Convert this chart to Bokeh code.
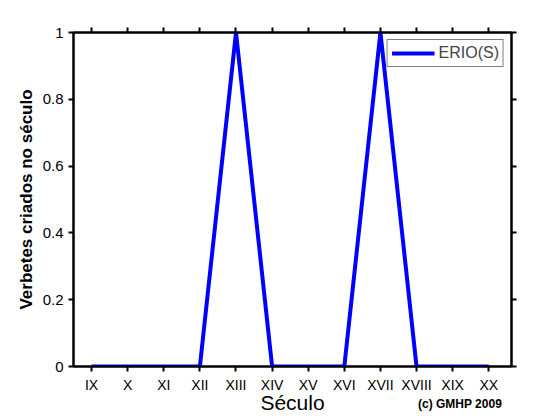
from bokeh.plotting import figure
from bokeh.models import FixedTicker, LinearAxis, Range1d, Legend, LegendItem, Div
from bokeh.layouts import column
from bokeh.embed import file_html
from bokeh.resources import INLINE

seculos = ["IX", "X", "XI", "XII", "XIII", "XIV", "XV", "XVI", "XVII", "XVIII", "XIX", "XX"]
erio_s = [0, 0, 0, 0, 1, 0, 0, 0, 1, 0, 0, 0]
y_ticks = [0, 0.2, 0.4, 0.6, 0.8, 1]
y_tick_labels = ["0", "0.2", "0.4", "0.6", "0.8", "1"]
copyright_text = "(c) GMHP 2009"

xs = list(range(1, len(seculos) + 1))
FONT = "Liberation Sans"

p = figure(frame_width=438, frame_height=334, output_backend="svg", toolbar_location=None,
           x_range=Range1d(0.5, 12.63), y_range=Range1d(0, 1),
           min_border_left=73, min_border_right=30, min_border_top=32, min_border_bottom=0,
           x_axis_location=None, y_axis_location=None)
p.grid.visible = False
p.outline_line_color = "black"
p.outline_line_width = 2
p.background_fill_color = "white"
p.border_fill_color = "white"

def style(ax, size="14px"):
    ax.axis_line_color = "black"
    ax.axis_line_width = 2
    ax.major_tick_line_width = 2
    ax.major_tick_out = 5
    ax.major_tick_in = 0
    ax.minor_tick_line_color = None
    ax.major_label_text_font = FONT
    ax.major_label_text_font_size = size
    ax.major_label_text_color = "black"
    ax.axis_label_text_color = "black"

xt = FixedTicker(ticks=xs)
yt = FixedTicker(ticks=y_ticks)

bx = LinearAxis(ticker=xt, major_label_overrides={x: s for x, s in zip(xs, seculos)})
style(bx, "14px")
bx.major_label_standoff = 5
bx.axis_label = "Século"
bx.axis_label_text_font = FONT
bx.axis_label_text_font_size = "21px"
bx.axis_label_text_font_style = "normal"
bx.axis_label_standoff = -5
p.add_layout(bx, "below")

ly = LinearAxis(ticker=yt, major_label_overrides={t: s for t, s in zip(y_ticks, y_tick_labels)})
style(ly, "15px")
ly.major_label_standoff = 5
ly.axis_label = "Verbetes criados no século"
ly.axis_label_text_font = FONT
ly.axis_label_text_font_size = "17px"
ly.axis_label_text_font_style = "bold"
ly.axis_label_standoff = 4
p.add_layout(ly, "left")

tx = LinearAxis(ticker=xt, major_label_overrides={x: "" for x in xs})
style(tx)
p.add_layout(tx, "above")
ry = LinearAxis(ticker=yt, major_label_overrides={t: "" for t in y_ticks})
style(ry)
p.add_layout(ry, "right")

r = p.line(xs, erio_s, line_color="#0000ff", line_width=4)

legend = Legend(items=[LegendItem(label="ERIO(S)", renderers=[r])],
                location="top_right", border_line_color="black", border_line_width=1,
                label_text_font=FONT, label_text_font_size="16px",
                glyph_width=43, glyph_height=18, padding=4, margin=7,
                label_standoff=4, spacing=0, background_fill_alpha=1)
p.add_layout(legend)

note = Div(text=copyright_text, width=110, height=14, margin=(-19, 0, 0, 418),
           styles={"font-family": FONT, "font-size": "12px", "font-weight": "bold",
                   "color": "black", "line-height": "14px", "white-space": "nowrap"})

layout = column(p, note, spacing=0)
open("out.html", "w").write(file_html(layout, INLINE))
